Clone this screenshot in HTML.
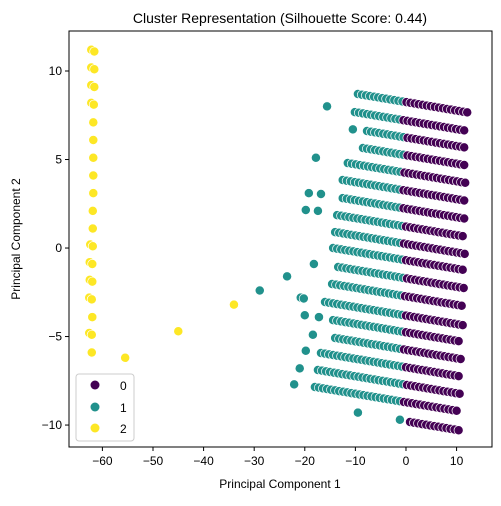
<!DOCTYPE html>
<html><head><meta charset="utf-8"><style>
body{margin:0;background:#fff;}
svg text{font-family:"Liberation Sans","DejaVu Sans",sans-serif;fill:#000;}
</style></head><body>
<svg id="chart" width="501" height="501" viewBox="0 0 501 501" xmlns="http://www.w3.org/2000/svg">
<rect width="501" height="501" fill="#fff"/>
<text x="280" y="23" font-size="14" text-anchor="middle">Cluster Representation (Silhouette Score: 0.44)</text>
<g id="marks"></g>
<rect x="69" y="31" width="423" height="416" fill="none" stroke="#000" stroke-width="1"/>
<g id="axes"></g>
<text x="280" y="488" font-size="12" text-anchor="middle">Principal Component 1</text>
<text transform="translate(20,239) rotate(-90)" font-size="12" text-anchor="middle">Principal Component 2</text>
<g>
<rect x="76" y="374" width="58" height="67" rx="3" fill="#fff" fill-opacity="0.8" stroke="#ccc"/>
<g><circle cx="95" cy="385" r="4.5" fill="#440154"/><text x="120" y="390" font-size="12">0</text></g>
<g><circle cx="95" cy="407" r="4.5" fill="#21918c"/><text x="120" y="412" font-size="12">1</text></g>
<g><circle cx="95" cy="428" r="4.5" fill="#fde725"/><text x="120" y="433" font-size="12">2</text></g>
</g>
</svg>
<script>
// Grid rows (data units): start x, start y, end x
const rowStartX = [-9.5,-10.1,-7.7,-8.5,-11.5,-12.5,-12.5,-13.6,-14.0,-14.4,-13.4,-14.6,-16.0,-14.4,-14.0,-16.8,-17.4,-18.0,0.8];
const rowStartY = [8.70,7.68,6.61,5.65,4.80,3.84,2.82,1.86,0.90,0.0,-1.07,-2.03,-3.05,-4.07,-5.08,-5.93,-6.89,-7.85,-9.83];
const rowEndX = [12.2,12.0,12.0,11.8,11.8,11.8,11.6,11.6,11.6,11.4,11.4,11.2,11.2,11.0,11.0,10.8,10.8,10.6,10.6];
const rowSlope = -0.048;
const clusterBoundaryX = -0.5;
// Scattered cluster-1 points
const tealX = [-15.6,-10.5,-17.8,-19.2,-16.8,-19.8,-17.4,-18.2,-23.5,-28.9,-20.8,-20.2,-20.0,-17.2,-18.4,-19.8,-21.0,-22.1,-9.5,-1.2];
const tealY = [8.0,6.7,5.1,3.1,3.05,2.15,2.1,-0.9,-1.6,-2.4,-2.8,-2.85,-3.8,-3.9,-4.9,-5.8,-6.8,-7.7,-9.3,-9.7];
// Cluster-2 points
const yellowX = [-62.2,-61.6,-62.2,-61.6,-62.2,-61.6,-62.2,-61.7,-61.8,-61.8,-61.8,-61.8,-61.8,-61.9,-61.9,-62.4,-61.9,-62.5,-62.0,-62.5,-62.0,-62.6,-62.1,-62.0,-62.6,-62.1,-62.1,-55.5,-45.0,-34.0];
const yellowY = [11.2,11.1,10.2,10.1,9.2,9.1,8.2,8.1,7.1,6.1,5.1,4.1,3.1,2.1,1.1,0.2,0.1,-0.8,-0.9,-1.8,-1.9,-2.8,-2.9,-3.9,-4.8,-4.9,-5.9,-6.2,-4.7,-3.2];
const xTicks = [-60,-50,-40,-30,-20,-10,0,10];
const yTicks = [-10,-5,0,5,10];

const X0=69,X1=492,Y0=447,Y1=31;
const xMin=-66.6,xMax=17.0,yMin=-11.24,yMax=12.26;
const sx=v=>X0+(v-xMin)/(xMax-xMin)*(X1-X0);
const sy=v=>Y0-(v-yMin)/(yMax-yMin)*(Y0-Y1);
const NS="http://www.w3.org/2000/svg";
const marks=document.getElementById('marks');
function dot(x,y,col){
  const c=document.createElementNS(NS,'circle');
  c.setAttribute('cx',sx(x));c.setAttribute('cy',sy(y));c.setAttribute('r',4.6);
  c.setAttribute('fill',col);c.setAttribute('stroke','#fff');c.setAttribute('stroke-width','0.7');
  
  
  marks.appendChild(c);
}
rowStartX.forEach((sx0,i)=>{
  for(let x=sx0;x<=rowEndX[i]+1e-6;x+=0.8){
    const y=rowStartY[i]+rowSlope*(x-sx0);
    dot(x,y,x>clusterBoundaryX?'#440154':'#21918c');
  }
});
tealX.forEach((x,i)=>dot(x,tealY[i],'#21918c'));
yellowX.forEach((x,i)=>dot(x,yellowY[i],'#fde725'));

const axes=document.getElementById('axes');
xTicks.forEach(t=>{
  const l=document.createElementNS(NS,'line');
  l.setAttribute('x1',sx(t));l.setAttribute('x2',sx(t));l.setAttribute('y1',Y0);l.setAttribute('y2',Y0+4);l.setAttribute('stroke','#000');
  
  
  axes.appendChild(l);
  const tx=document.createElementNS(NS,'text');
  tx.setAttribute('x',sx(t));tx.setAttribute('y',Y0+18);tx.setAttribute('font-size','12');tx.setAttribute('text-anchor','middle');
  tx.textContent=(t<0?'\u2212'+(-t):String(t));
  
  
  axes.appendChild(tx);
});
yTicks.forEach(t=>{
  const l=document.createElementNS(NS,'line');
  l.setAttribute('x1',X0-4);l.setAttribute('x2',X0);l.setAttribute('y1',sy(t));l.setAttribute('y2',sy(t));l.setAttribute('stroke','#000');
  
  
  axes.appendChild(l);
  const tx=document.createElementNS(NS,'text');
  tx.setAttribute('x',X0-7);tx.setAttribute('y',sy(t)+4);tx.setAttribute('font-size','12');tx.setAttribute('text-anchor','end');
  tx.textContent=(t<0?'\u2212'+(-t):String(t));
  
  
  axes.appendChild(tx);
});
</script>
</body></html>
